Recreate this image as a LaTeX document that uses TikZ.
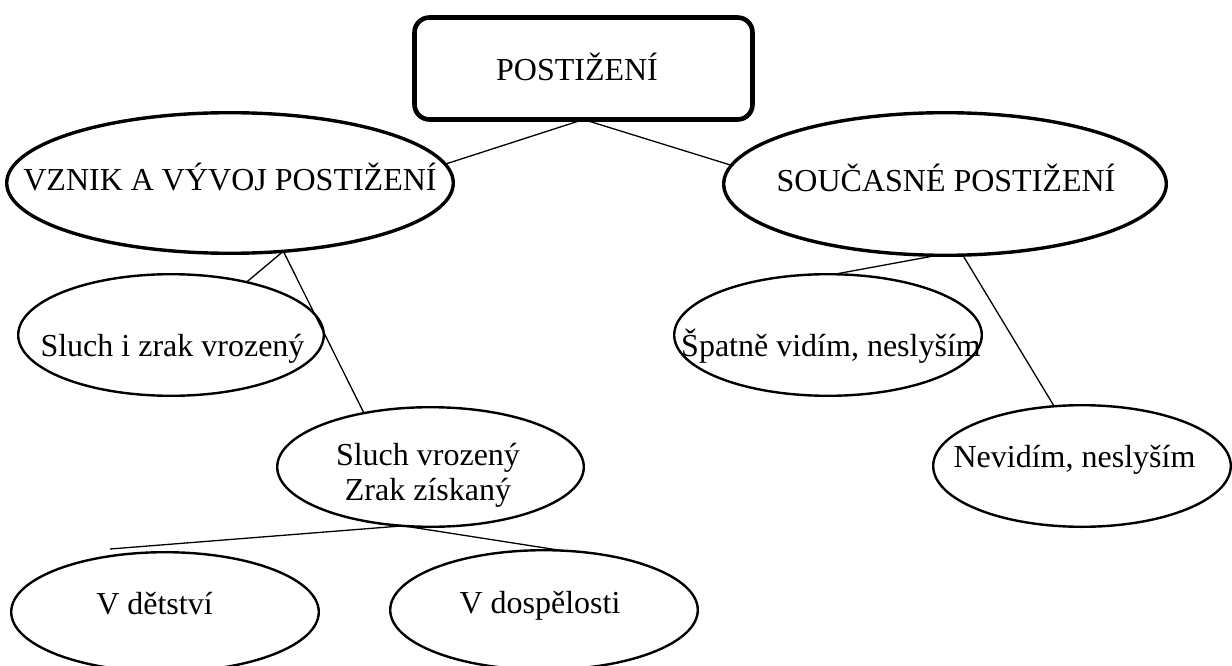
\documentclass[tikz,border=0pt]{standalone}
\usepackage{fontspec}
\setmainfont{Liberation Serif}
\usetikzlibrary{shapes.geometric}
\begin{document}
\begin{tikzpicture}[x=1pt,y=-1pt,
  every node/.style={inner sep=0pt, outer sep=0pt},
  rootbox/.style={draw, rounded corners=15pt, line width=4.6pt},
  bigbubble/.style={ellipse, draw, line width=3.4pt},
  bubble/.style={ellipse, draw, line width=2.4pt},
  words/.style={font=\fontsize{32}{35}\selectfont, anchor=base, align=center},
  link/.style={line width=1.3pt}]
\useasboundingbox (0,0) rectangle (1232,666);

% shapes
\node[rootbox, minimum width=338pt, minimum height=102pt] (root) at (583.5,68.5) {};
\node[bigbubble, minimum width=446.6pt, minimum height=140.6pt] (a) at (230,183) {};
\node[bigbubble, minimum width=442.6pt, minimum height=142.6pt] (b) at (945,184) {};
\node[bubble, minimum width=305.6pt, minimum height=121.6pt] (c) at (171,335) {};
\node[bubble, minimum width=306.6pt, minimum height=119.6pt] (d) at (430.5,467) {};
\node[bubble, minimum width=307.6pt, minimum height=121.6pt] (e) at (828,335) {};
\node[bubble, minimum width=297.6pt, minimum height=121.6pt] (f) at (1082,466) {};
\node[bubble, minimum width=307.6pt, minimum height=119.6pt] (g) at (165,612) {};
\node[bubble, minimum width=307.6pt, minimum height=119.6pt] (h) at (544,610) {};

% texts (base anchor of a two-line node sits on its last line)
\node[words] (root-t) at (577,81) {POSTIŽENÍ};
\node[words] (a-t) at (230,190) {VZNIK A VÝVOJ POSTIŽENÍ};
\node[words] (b-t) at (946,191) {SOUČASNÉ POSTIŽENÍ};
\node[words] (c-t) at (172.5,356) {Sluch i zrak vrozený};
\node[words] (d-t) at (428,500) {Sluch vrozený\\Zrak získaný};
\node[words] (e-t) at (831,356) {Špatně vidím, neslyším};
\node[words] (f-t) at (1074.5,467) {Nevidím, neslyším};
\node[words] (g-t) at (154.5,614) {V dětství};
\node[words] (h-t) at (540,613) {V dospělosti};

% connectors
\draw[link] (root.south) -- (a.5.5);
\draw[link] (root.south) -- (b.175);
\draw[link] (a.-52) -- (c.35);
\draw[link] (a.-52) -- (d.141);
\draw[link] (b.264) -- (e.84);
\draw[link] (b.-76) -- (f.115);
\draw[link] (d.245) -- ([shift={(-55,-63)}]g.center);
\draw[link] (d.245) -- (h.73);
\end{tikzpicture}
\end{document}
